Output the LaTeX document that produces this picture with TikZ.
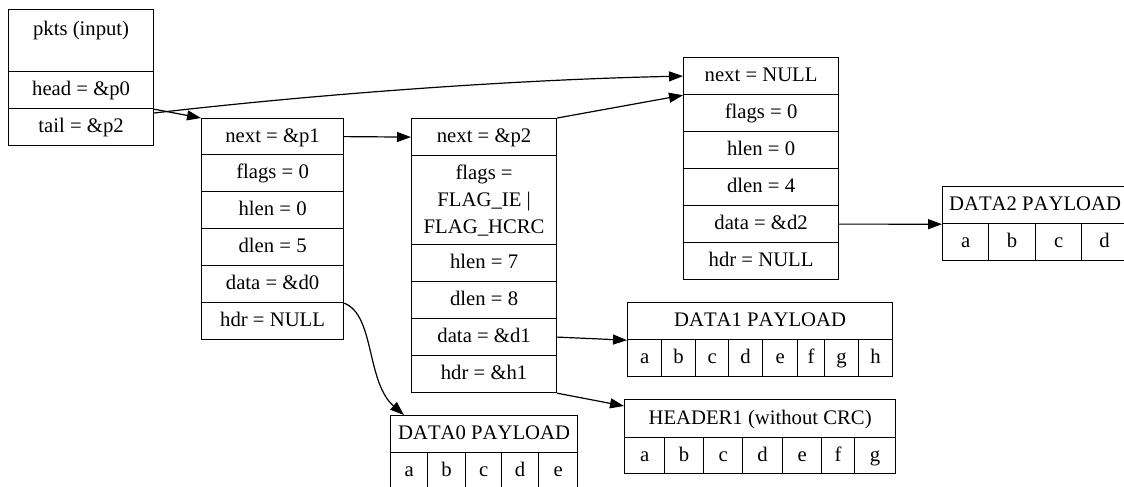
\documentclass[tikz,border=0pt]{standalone}
\usepackage{fontspec}
\setmainfont[Kerning=Off]{Liberation Serif}
\usetikzlibrary{arrows.meta,calc}
\tikzset{
  field/.style={draw, line width=1.2pt, inner sep=0pt, anchor=north west,
    font=\fontsize{20.7}{27}\selectfont, align=center},
  cell/.style={field, text height=16pt, text depth=4.5pt},
  txt/.style={inner sep=0pt, font=\fontsize{20.7}{27}\selectfont},
  conn/.style={line width=1.2pt, -{Triangle[length=14pt,width=10pt]}},
}
\begin{document}
\begin{tikzpicture}[x=1pt,y=-1pt]
\useasboundingbox (0,0) rectangle (1124,487);
% pkts
\node[field, minimum width=145pt, minimum height=62pt] (pktsbox) at (8,9) {};
\node[txt] (pktslbl) at ($(pktsbox.north)+(0,22)$) {pkts (input)};
\node[cell, minimum width=145pt, minimum height=37pt] (head) at (8,71) {head = \&p0};
\node[cell, minimum width=145pt, minimum height=37pt] (tail) at (8,108) {tail = \&p2};
% p0
\node[cell, minimum width=142pt, minimum height=36pt] (p0next) at (201,118) {next = \&p1};
\node[cell, minimum width=142pt, minimum height=37pt] (p0flags) at (201,154) {flags = 0};
\node[cell, minimum width=142pt, minimum height=37pt] (p0hlen) at (201,191) {hlen = 0};
\node[cell, minimum width=142pt, minimum height=37pt] (p0dlen) at (201,228) {dlen = 5};
\node[cell, minimum width=142pt, minimum height=37pt] (p0data) at (201,265) {data = \&d0};
\node[cell, minimum width=142pt, minimum height=37pt] (p0hdr) at (201,302) {hdr = NULL};
% p1
\node[cell, minimum width=145pt, minimum height=37pt] (p1next) at (411,118) {next = \&p2};
\node[field, minimum width=145pt, minimum height=89pt] (p1flags) at (411,155) {flags =\\FLAG\_IE |\\FLAG\_HCRC};
\node[cell, minimum width=145pt, minimum height=37pt] (p1hlen) at (411,244) {hlen = 7};
\node[cell, minimum width=145pt, minimum height=37pt] (p1dlen) at (411,281) {dlen = 8};
\node[cell, minimum width=145pt, minimum height=37pt] (p1data) at (411,318) {data = \&d1};
\node[cell, minimum width=145pt, minimum height=37pt] (p1hdr) at (411,355) {hdr = \&h1};
% p2
\node[cell, minimum width=155pt, minimum height=37pt] (p2next) at (683,57) {next = NULL};
\node[cell, minimum width=155pt, minimum height=37pt] (p2flags) at (683,94) {flags = 0};
\node[cell, minimum width=155pt, minimum height=37pt] (p2hlen) at (683,131) {hlen = 0};
\node[cell, minimum width=155pt, minimum height=37pt] (p2dlen) at (683,168) {dlen = 4};
\node[cell, minimum width=155pt, minimum height=37pt] (p2data) at (683,205) {data = \&d2};
\node[cell, minimum width=155pt, minimum height=37pt] (p2hdr) at (683,242) {hdr = NULL};
% DATA2
\node[cell, minimum width=185pt, minimum height=37pt] (d2t) at (942,186) {DATA2 PAYLOAD};
\foreach \l/\xa/\xb [count=\i] in {a/942/988, b/988/1035, c/1035/1081, d/1081/1127}
  \node[cell, minimum width={(\xb-\xa)*1pt}, minimum height=37pt] (d2c\i) at (\xa,223) {\l};
% DATA1
\node[cell, minimum width=265pt, minimum height=37pt] (d1t) at (627,302) {DATA1 PAYLOAD};
\foreach \l/\xa/\xb [count=\i] in {a/627/661, b/661/695, c/695/728, d/728/762, e/762/797, f/797/824, g/824/858, h/858/892}
  \node[cell, minimum width={(\xb-\xa)*1pt}, minimum height=37pt] (d1c\i) at (\xa,339) {\l};
% HEADER1
\node[cell, minimum width=271pt, minimum height=38pt] (h1t) at (624,399) {HEADER1 (without CRC)};
\foreach \l/\xa/\xb [count=\i] in {a/624/664, b/664/703, c/703/742, d/742/782, e/782/821, f/821/854, g/854/895}
  \node[cell, minimum width={(\xb-\xa)*1pt}, minimum height=36pt] (h1c\i) at (\xa,437) {\l};
% DATA0
\node[cell, minimum width=187pt, minimum height=37pt] (d0t) at (390,415) {DATA0 PAYLOAD};
\foreach \l/\xa/\xb [count=\i] in {a/390/427, b/427/465, c/465/501, d/501/538, e/538/577}
  \node[cell, minimum width={(\xb-\xa)*1pt}, minimum height=37pt] (d0c\i) at (\xa,452) {\l};
% connectors
\draw[conn] (head.south east) -- (p0next.north west);
\draw[conn] ($(tail.north east)+(0,5)$) .. controls (300,96) and (500,80) .. (p2next.west);
\draw[conn] (p0next.east) -- (p1next.west);
\draw[conn] (p1next.north east) -- (p2next.south west);
\draw[conn] (p2data.east) -- (d2t.south west);
\draw[conn] (p1data.east) -- (d1t.south west);
\draw[conn] (p1hdr.south east) -- ($(h1t.north west)+(0,7)$);
\draw[conn] (p0data.south east) .. controls (375,315) and (366,382) .. ($(d0t.north west)+(14,0)$);
\end{tikzpicture}
\end{document}
